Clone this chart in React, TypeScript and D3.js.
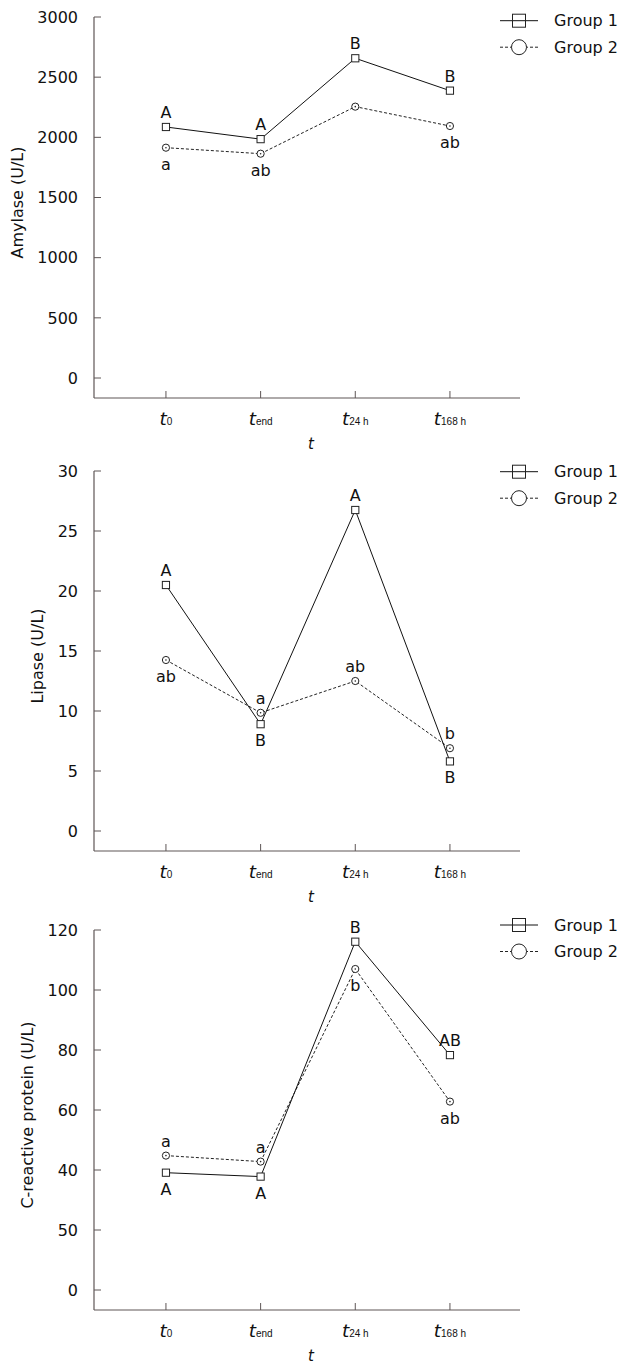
import React from "react";
import * as d3 from "d3";

// ---------- Data ----------
const timeSubscripts = ["0", "end", "24 h", "168 h"];
const groupNames = ["Group 1", "Group 2"];

const amylaseG1 = [2086, 1985, 2657, 2388];
const amylaseG2 = [1914, 1864, 2255, 2094];
const amylaseG1Letters = ["A", "A", "B", "B"];
const amylaseG1Pos = ["above", "above", "above", "above"];
const amylaseG2Letters = ["a", "ab", "", "ab"];
const amylaseG2Pos = ["below", "below", "below", "below"];
const amylaseTicks = [0, 500, 1000, 1500, 2000, 2500, 3000];
const amylaseTickLabels = ["0", "500", "1000", "1500", "2000", "2500", "3000"];

const lipaseG1 = [20.5, 8.9, 26.75, 5.8];
const lipaseG2 = [14.25, 9.85, 12.5, 6.9];
const lipaseG1Letters = ["A", "B", "A", "B"];
const lipaseG1Pos = ["above", "below", "above", "below"];
const lipaseG2Letters = ["ab", "a", "ab", "b"];
const lipaseG2Pos = ["below", "above", "above", "above"];
const lipaseTicks = [0, 5, 10, 15, 20, 25, 30];
const lipaseTickLabels = ["0", "5", "10", "15", "20", "25", "30"];

const crpG1 = [39.1, 37.8, 116.1, 78.3];
const crpG2 = [44.8, 42.8, 107, 62.8];
const crpG1Letters = ["A", "A", "B", "AB"];
const crpG1Pos = ["below", "below", "above", "above"];
const crpG2Letters = ["a", "a", "b", "ab"];
const crpG2Pos = ["above", "above", "below", "below"];
const crpTicks = [0, 20, 40, 60, 80, 100, 120];
const crpTickLabels = ["0", "50", "40", "60", "80", "100", "120"];

// ---------- Layout ----------
const FONT = "'DejaVu Sans', Verdana, sans-serif";
const AXIS_COLOR = "#5e5656";
const X0 = 94;
const X1 = 520;

const panels = [
  {
    title: "Amylase (U/L)", g1: amylaseG1, g2: amylaseG2,
    l1: amylaseG1Letters, p1: amylaseG1Pos, l2: amylaseG2Letters, p2: amylaseG2Pos,
    ticks: amylaseTicks, tickLabels: amylaseTickLabels,
    top: 17, zeroY: 378, bottom: 398, legendDy: 3.7,
  },
  {
    title: "Lipase (U/L)", g1: lipaseG1, g2: lipaseG2,
    l1: lipaseG1Letters, p1: lipaseG1Pos, l2: lipaseG2Letters, p2: lipaseG2Pos,
    ticks: lipaseTicks, tickLabels: lipaseTickLabels,
    top: 471, zeroY: 831, bottom: 851, legendDy: 0.7,
  },
  {
    title: "C-reactive protein (U/L)", g1: crpG1, g2: crpG2,
    l1: crpG1Letters, p1: crpG1Pos, l2: crpG2Letters, p2: crpG2Pos,
    ticks: crpTicks, tickLabels: crpTickLabels,
    top: 930, zeroY: 1290, bottom: 1310, legendDy: -5,
  },
];

const xScale = d3.scaleLinear().domain([0.24, 4.74]).range([X0, X1]);

function Panel({ p }: { p: any }) {
  const maxTick = p.ticks[p.ticks.length - 1];
  const y = d3.scaleLinear().domain([0, maxTick]).range([p.zeroY, p.top]);
  const idx = timeSubscripts.map((_, i) => i + 1);
  const line = d3.line<number>().x((_, i) => xScale(i + 1)).y((v) => y(v));
  const maxLen = d3.max(p.tickLabels as string[], (s) => s.length) as number;
  const titleX = 78 - maxLen * 10 - 21;
  const titleY = (p.top + p.bottom) / 2 - 5;

  const letter = (v: number, i: number, txt: string, pos: string, key: string) =>
    txt ? (
      <text
        key={key}
        x={xScale(i + 1)}
        y={pos === "above" ? y(v) - 9 : y(v) + 22}
        textAnchor="middle"
        fontSize={16}
        fontFamily={FONT}
        fill="#111"
      >
        {txt}
      </text>
    ) : null;

  return (
    <g>
      {/* axes */}
      <line x1={X0} x2={X0} y1={p.top} y2={p.bottom} stroke={AXIS_COLOR} strokeWidth={1.2} />
      <line x1={X0} x2={X1} y1={p.bottom} y2={p.bottom} stroke={AXIS_COLOR} strokeWidth={1.2} />
      {p.ticks.map((t: number, i: number) => (
        <g key={"yt" + i}>
          <line x1={X0} x2={X0 + 7} y1={y(t)} y2={y(t)} stroke={AXIS_COLOR} strokeWidth={1} />
          <text x={78} y={y(t)} dy="0.36em" textAnchor="end" fontSize={16} fontFamily={FONT} fill="#111">
            {p.tickLabels[i]}
          </text>
        </g>
      ))}
      {idx.map((c, i) => (
        <g key={"xt" + i}>
          <line x1={xScale(c)} x2={xScale(c)} y1={p.bottom} y2={p.bottom - 7} stroke={AXIS_COLOR} strokeWidth={1} />
          <text x={xScale(c)} y={p.bottom + 27} textAnchor="middle" fontFamily={FONT} fill="#111">
            <tspan fontStyle="italic" fontSize={18.5}>t</tspan>
            <tspan fontSize={10} fontFamily="'Liberation Sans', Arial, sans-serif">{timeSubscripts[i]}</tspan>
          </text>
        </g>
      ))}
      <text x={(X0 + X1) / 2 + 4} y={p.bottom + 51} textAnchor="middle" fontStyle="italic" fontSize={15} fontFamily={FONT} fill="#111">
        t
      </text>
      <text
        transform={`translate(${titleX},${titleY}) rotate(-90)`}
        textAnchor="middle"
        dy="0.36em"
        fontSize={16}
        fontFamily={FONT}
        fill="#111"
      >
        {p.title}
      </text>

      {/* series */}
      <path d={line(p.g2) as string} fill="none" stroke="#222" strokeWidth={1} strokeDasharray="3,2" />
      <path d={line(p.g1) as string} fill="none" stroke="#111" strokeWidth={1} />
      {p.g2.map((v: number, i: number) => (
        <g key={"c" + i}>
          <circle cx={xScale(i + 1)} cy={y(v)} r={3.6} fill="white" stroke="#222" strokeWidth={1} />
          <circle cx={xScale(i + 1)} cy={y(v)} r={0.8} fill="#222" />
        </g>
      ))}
      {p.g1.map((v: number, i: number) => (
        <rect key={"s" + i} x={xScale(i + 1) - 3.6} y={y(v) - 3.6} width={7.2} height={7.2} fill="white" stroke="#222" strokeWidth={1} />
      ))}
      {p.g1.map((v: number, i: number) => letter(v, i, p.l1[i], p.p1[i], "l1" + i))}
      {p.g2.map((v: number, i: number) => letter(v, i, p.l2[i], p.p2[i], "l2" + i))}

      {/* legend */}
      {groupNames.map((name, gi) => {
        const ly = p.top + p.legendDy + gi * 26.5;
        return (
          <g key={"lg" + gi}>
            {gi === 0 ? (
              <g>
                <line x1={500} x2={538} y1={ly} y2={ly} stroke="#111" strokeWidth={1} />
                <rect x={512.5} y={ly - 6.5} width={13} height={13} fill="none" stroke="#222" strokeWidth={1} />
              </g>
            ) : (
              <g>
                <line x1={500} x2={538} y1={ly} y2={ly} stroke="#222" strokeWidth={1} strokeDasharray="3,2" />
                <circle cx={519} cy={ly} r={7.5} fill="white" stroke="#222" strokeWidth={1} />
              </g>
            )}
            <text x={554} y={ly} dy="0.36em" fontSize={16} fontFamily={FONT} fill="#111">
              {name}
            </text>
          </g>
        );
      })}
    </g>
  );
}

export default function App() {
  return (
    <svg
      width={623}
      height={1365}
      style={{ position: "absolute", left: 0, top: 0, background: "white" }}
    >
      <rect width={623} height={1365} fill="white" />
      {panels.map((p, i) => (
        <Panel key={i} p={p} />
      ))}
    </svg>
  );
}
